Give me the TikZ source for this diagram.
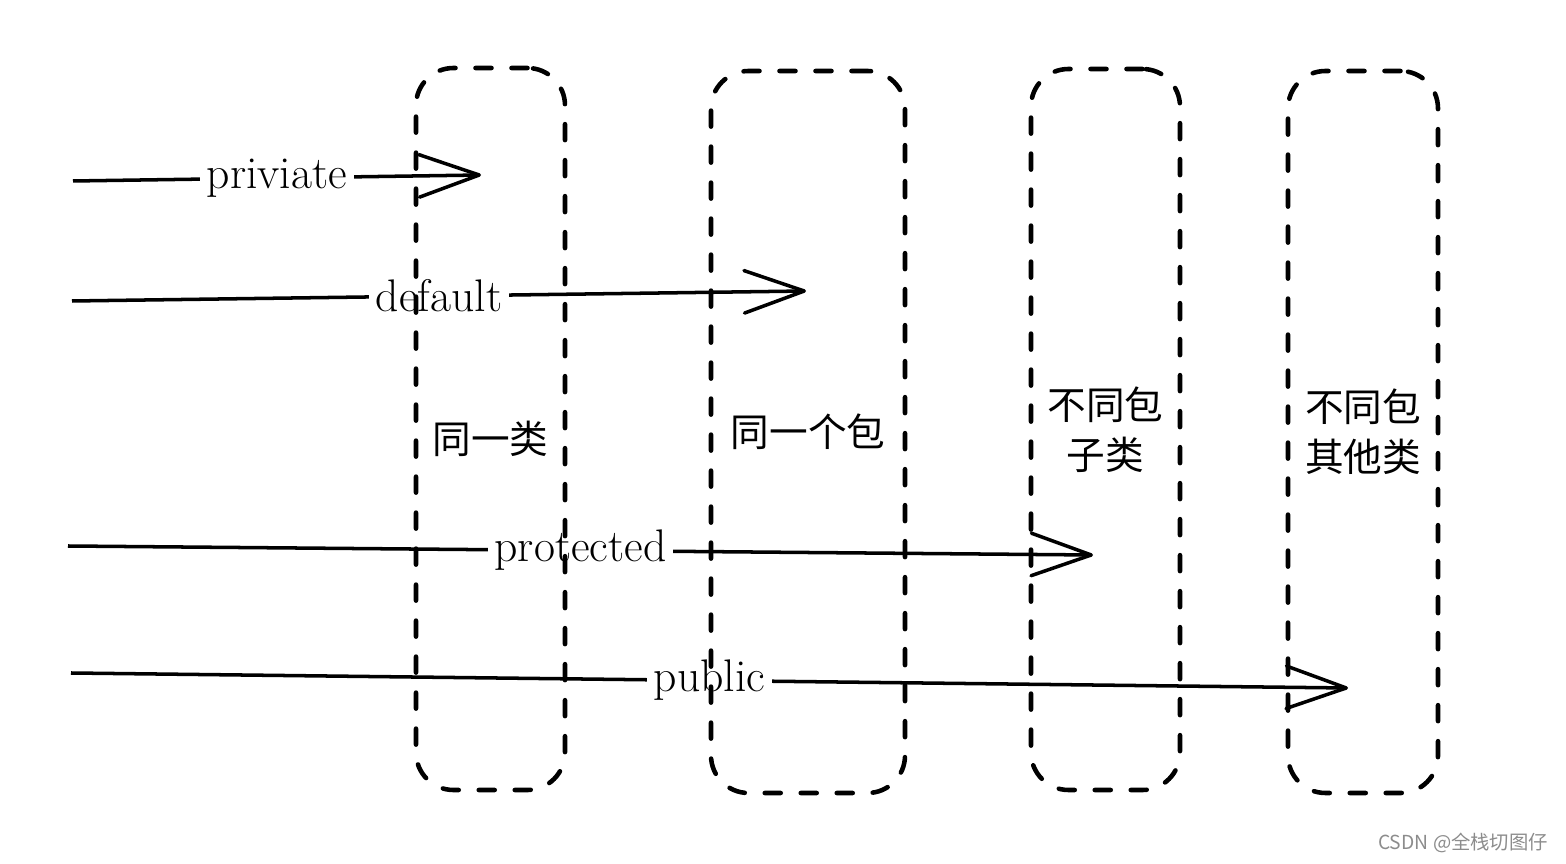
\documentclass[tikz,border=0pt]{standalone}
\usepackage{fontspec}
\usepackage{tikz}
\usetikzlibrary{arrows.meta}
\newfontfamily\cjk{Noto Sans CJK SC}
\colorlet{mygray}{black!45}

\begin{document}
\begin{tikzpicture}[th/.style = {line width = 2pt},
		acc/.style = {th, -{Straight Barb[length=1.2cm, width=0.85cm, round]}},
		lbl/.style = {fill=white, inner sep=4pt, font=\fontsize{26}{30}\selectfont},
		scopebox/.style = {draw, line width=2.6pt, rounded corners=0.75cm, line cap=round,
			dash pattern=on 0.32cm off 0.4cm, inner sep=0pt, align=center,
			font=\cjk\fontsize{22}{28.5}\selectfont}]
		\useasboundingbox (0,0) rectangle (31.32,17.26);
		% access levels
		\coordinate (privs) at (1.46,13.64);
		\coordinate (prive) at (9.62,13.76);
		\coordinate (defs) at (1.44,11.24);
		\coordinate (defe) at (16.12,11.44);
		\coordinate (prots) at (1.36,6.34);
		\coordinate (prote) at (21.86,6.16);
		\coordinate (pubs) at (1.42,3.8);
		\coordinate (pube) at (26.96,3.5);
		\draw[acc] (privs) -- node[lbl] (privl) {priviate} (prive);
		\draw[acc] (defs) -- node[lbl] (defl) {default} (defe);
		\draw[acc] (prots) -- node[lbl] (protl) {protected} (prote);
		\draw[acc] (pubs) -- node[lbl] (publ) {public} (pube);
		% scopes
		\node[scopebox, minimum width=2.98cm, minimum height=14.44cm] (cls) at (9.81,8.68) {\rule{0pt}{1.05cm}同一类};
		\node[scopebox, minimum width=3.88cm, minimum height=14.44cm] (pkg) at (16.16,8.62) {同一个包};
		\node[scopebox, minimum width=2.98cm, minimum height=14.42cm] (sub) at (22.11,8.67) {不同包\\子类};
		\node[scopebox, minimum width=3.0cm, minimum height=14.44cm] (other) at (27.26,8.62) {不同包\\其他类};
		\node[text=mygray, font=\cjk\fontsize{11}{13}\selectfont] (mark) at (29.26,0.4) {CSDN @全栈切图仔};
	\end{tikzpicture}
\end{document}
